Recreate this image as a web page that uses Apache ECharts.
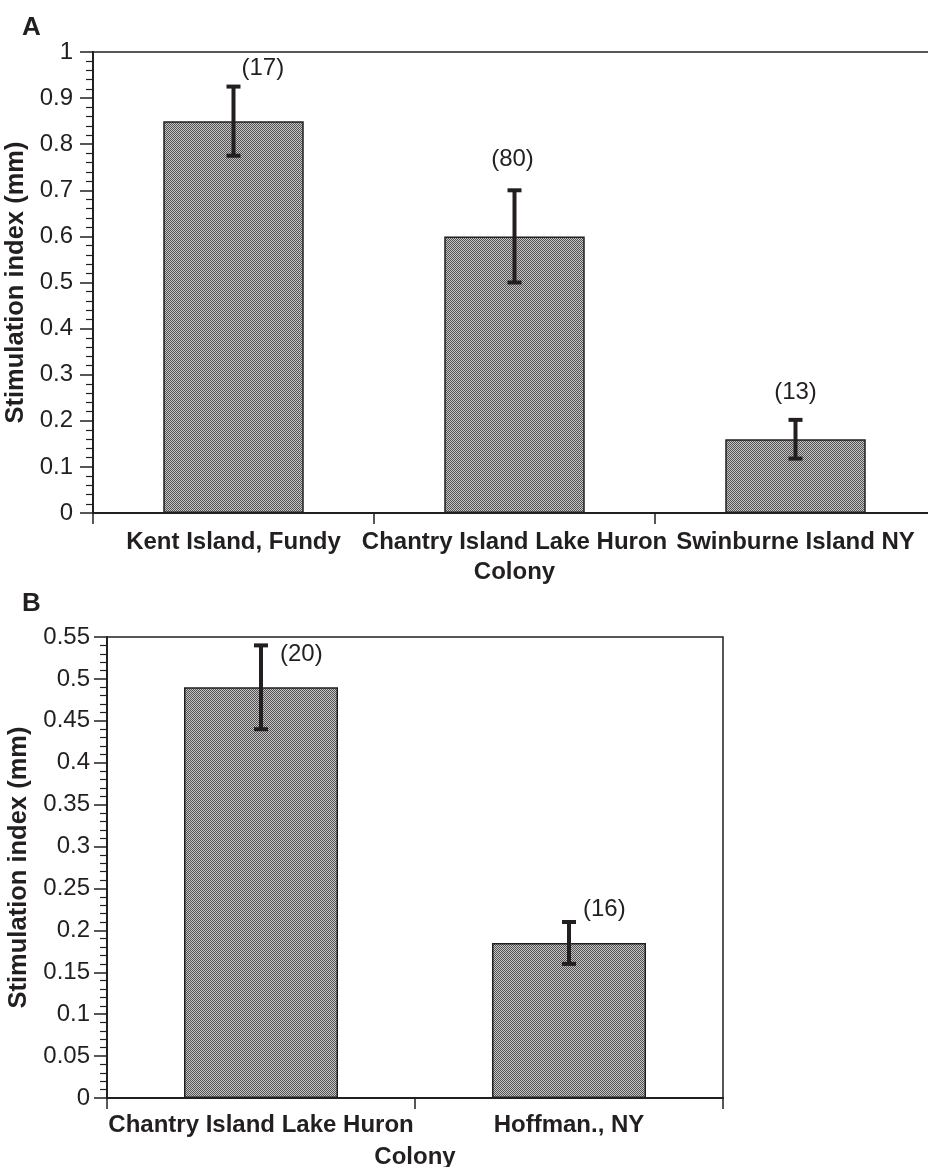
<!DOCTYPE html>
<html>
<head>
<meta charset="utf-8">
<script src="https://cdn.jsdelivr.net/npm/echarts@6/dist/echarts.min.js"></script>
<style>
html,body{margin:0;padding:0;background:#fff;overflow:hidden;}
#chart{width:928px;height:1167px;}
</style>
</head>
<body>
<div id="chart"></div>
<script>
// ---- data ----
var catsA = ['Kent Island, Fundy', 'Chantry Island Lake Huron', 'Swinburne Island NY'];
var meanA = [0.85, 0.60, 0.16];
var errA  = [0.075, 0.10, 0.042];
var nA    = ['(17)', '(80)', '(13)'];

var catsB = ['Chantry Island Lake Huron', 'Hoffman., NY'];
var meanB = [0.49, 0.185];
var errB  = [0.05, 0.025];
var nB    = ['(20)', '(16)'];

var yTicksA = {min: 0, max: 1, interval: 0.1};
var yTicksB = {min: 0, max: 0.55, interval: 0.05};

// ---- styling ----
var FONT = '"Liberation Sans", Arial, Helvetica, sans-serif';
var INK = '#231f20';
// label placement relative to the top of each error bar: [dx, dy, align]
var nPlaceA = [[8, -18, 'left'], [-2, -31, 'center'], [0, -28, 'center']];
var nPlaceB = [[19, 9, 'left'], [14, -13, 'left']];

// dotted halftone fill
var pat = document.createElement('canvas');
pat.width = 2; pat.height = 2;
var pc = pat.getContext('2d');
pc.fillStyle = '#c4c4c4'; pc.fillRect(0, 0, 2, 2);
pc.fillStyle = '#545454'; pc.fillRect(0, 0, 1, 1); pc.fillRect(1, 1, 1, 1);

function errRender(labels, place) {
  return function (params, api) {
    var i = api.value(0), m = api.value(1), e = api.value(2);
    var top = api.coord([i, m + e]);
    var bot = api.coord([i, m - e]);
    var cw = 7;
    var st = {stroke: INK, lineWidth: 4};
    var p = place[params.dataIndex];
    return {
      type: 'group',
      children: [
        {type: 'line', shape: {x1: top[0], y1: top[1], x2: bot[0], y2: bot[1]}, style: st},
        {type: 'line', shape: {x1: top[0] - cw, y1: top[1], x2: top[0] + cw, y2: top[1]}, style: st},
        {type: 'line', shape: {x1: bot[0] - cw, y1: bot[1], x2: bot[0] + cw, y2: bot[1]}, style: st},
        {type: 'text', x: top[0] + p[0], y: top[1] + p[1],
          style: {text: labels[params.dataIndex], fill: INK, font: '24px ' + FONT,
            align: p[2], verticalAlign: 'middle'}}
      ]
    };
  };
}

function yAxis(gridIndex, t, nameGap, labelMargin) {
  return {
    type: 'value', gridIndex: gridIndex, min: t.min, max: t.max, interval: t.interval,
    name: 'Stimulation index (mm)', nameLocation: 'middle', nameGap: nameGap,
    nameTextStyle: {fontFamily: FONT, fontSize: 25.5, fontWeight: 'bold', color: INK},
    axisLine: {show: true, lineStyle: {color: INK, width: 2}},
    axisTick: {show: true, length: 13, lineStyle: {color: INK, width: 1.5}},
    minorTick: {show: true, splitNumber: 5, length: 7, lineStyle: {color: INK, width: 1.2}},
    splitLine: {show: false},
    axisLabel: {fontFamily: FONT, fontSize: 24, color: INK, margin: labelMargin}
  };
}

function xAxis(gridIndex, cats, nameGap, labelMargin) {
  return {
    type: 'category', gridIndex: gridIndex, data: cats,
    name: 'Colony', nameLocation: 'middle', nameGap: nameGap,
    nameTextStyle: {fontFamily: FONT, fontSize: 24, fontWeight: 'bold', color: INK},
    axisLine: {show: true, lineStyle: {color: INK, width: 2}},
    axisTick: {show: true, length: 11, lineStyle: {color: INK, width: 1.5}},
    splitLine: {show: false},
    axisLabel: {fontFamily: FONT, fontSize: 24, fontWeight: 'bold', color: INK,
      margin: labelMargin, interval: 0, hideOverlap: false}
  };
}

var chart = echarts.init(document.getElementById('chart'), null, {renderer: 'canvas'});
chart.setOption({
  animation: false,
  backgroundColor: '#fff',
  graphic: [
    {type: 'text', left: 22, top: 15, style: {text: 'A', font: 'bold 26px ' + FONT, fill: INK}},
    {type: 'text', left: 22, top: 591, style: {text: 'B', font: 'bold 26px ' + FONT, fill: INK}}
  ],
  grid: [
    {left: 93, top: 52, width: 843, height: 461, outerBoundsMode: 'none', containLabel: false,
      show: true, borderColor: INK, borderWidth: 1.5, backgroundColor: 'transparent'},
    {left: 107, top: 637, width: 616, height: 461, outerBoundsMode: 'none', containLabel: false,
      show: true, borderColor: INK, borderWidth: 1.5, backgroundColor: 'transparent'}
  ],
  xAxis: [xAxis(0, catsA, 47, 17), xAxis(1, catsB, 47, 15)],
  yAxis: [yAxis(0, yTicksA, 58, 20), yAxis(1, yTicksB, 72, 17)],
  series: [
    {type: 'bar', xAxisIndex: 0, yAxisIndex: 0, data: meanA, barWidth: '50%',
      itemStyle: {color: {image: pat, repeat: 'repeat'}, borderColor: INK, borderWidth: 1.5}},
    {type: 'bar', xAxisIndex: 1, yAxisIndex: 1, data: meanB, barWidth: '50%',
      itemStyle: {color: {image: pat, repeat: 'repeat'}, borderColor: INK, borderWidth: 1.5}},
    {type: 'custom', xAxisIndex: 0, yAxisIndex: 0, z: 10,
      data: meanA.map(function (m, i) { return [i, m, errA[i]]; }),
      renderItem: errRender(nA, nPlaceA)},
    {type: 'custom', xAxisIndex: 1, yAxisIndex: 1, z: 10,
      data: meanB.map(function (m, i) { return [i, m, errB[i]]; }),
      renderItem: errRender(nB, nPlaceB)}
  ]
});
</script>
</body>
</html>
